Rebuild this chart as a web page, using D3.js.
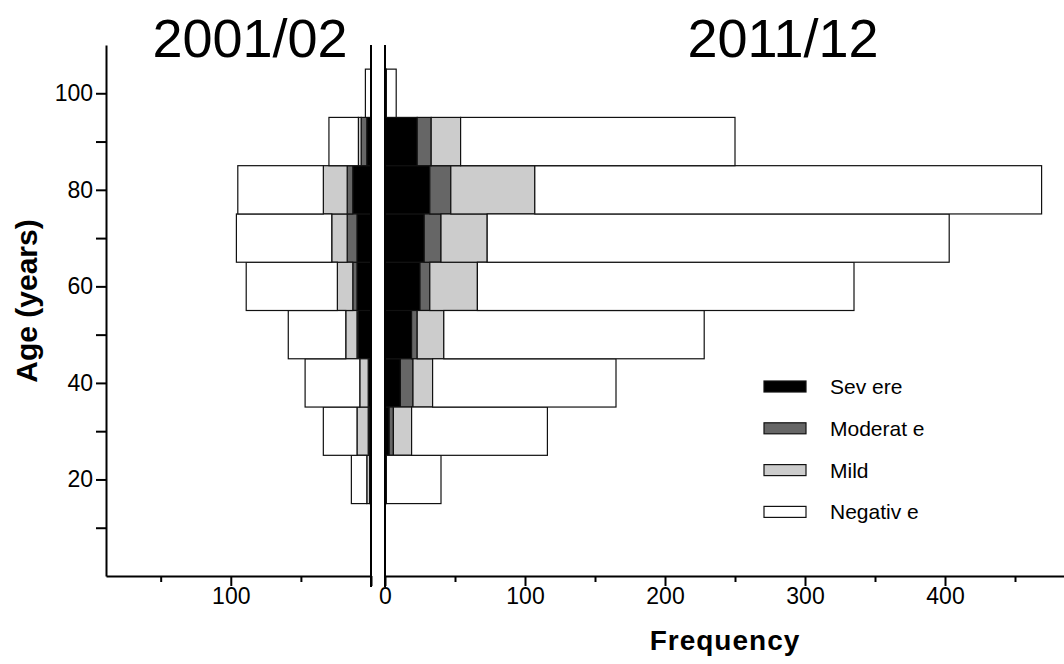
<!DOCTYPE html>
<html>
<head>
<meta charset="utf-8">
<script src="https://cdnjs.cloudflare.com/ajax/libs/d3/7.8.5/d3.min.js"></script>
<style>
body { margin: 0; background: #fff; }
svg { display: block; font-family: "Liberation Sans", Arial, sans-serif; }
</style>
</head>
<body>
<svg id="chart" width="1064" height="664"></svg>
<script>
// Data (frequency per 10 year age band)
var ages = [20, 30, 40, 50, 60, 70, 80, 90, 100];
var categories = ["Severe", "Moderate", "Mild", "Negative"];
var legendLabels = ["Sev ere", "Moderat e", "Mild", "Negativ e"];
var periods = ["2001/02", "2011/12"];

var severe2001   = [0, 1, 2, 9, 10, 10, 13, 3, 0];
var moderate2001 = [1, 1, 0, 1, 3, 7, 4, 4, 0];
var mild2001     = [2, 8, 6, 8, 11, 11, 17, 2, 0];
var negative2001 = [11, 24, 39, 41, 65, 68, 61, 21, 4];

var severe2011   = [1, 3, 11, 19, 25, 28, 32, 23, 1];
var moderate2011 = [0, 3, 9, 4, 7, 12, 15, 10, 0];
var mild2011     = [0, 13, 14, 19, 34, 33, 60, 21, 0];
var negative2011 = [39, 97, 131, 186, 269, 330, 362, 196, 7];

var ageTicks = [10, 20, 30, 40, 50, 60, 70, 80, 90, 100];
var leftTicks = [0, 50, 100, 150];
var rightTicks = [0, 50, 100, 150, 200, 250, 300, 350, 400, 450];

var colors = {"Severe": "#000000", "Moderate": "#666666", "Mild": "#cccccc", "Negative": "#ffffff"};

function buildRows(s, mo, mi, neg) {
    var rows = [];
    for (var i = 0; i < ages.length; i++) {
	rows.push({age: ages[i], Severe: s[i], Moderate: mo[i], Mild: mi[i], Negative: neg[i]});
    }
    return rows;
}

var svg = d3.select("#chart");

var y = d3.scaleLinear().domain([0, 110]).range([576, 45]);
var xLeft = d3.scaleLinear().domain([0, 189]).range([371, 106]);
var xRight = d3.scaleLinear().domain([0, 485]).range([385, 1064]);

var stack = d3.stack().keys(categories);
var leftSeries = stack(buildRows(severe2001, moderate2001, mild2001, negative2001));
var rightSeries = stack(buildRows(severe2011, moderate2011, mild2011, negative2011));

function drawBars(series, x, flip) {
    var g = svg.append("g");
    series.forEach(function(layer) {
	g.selectAll(null)
	    .data(layer)
	    .enter().append("rect")
	    .attr("x", function(d) { return flip ? x(d[1]) : x(d[0]); })
	    .attr("y", function(d) { return y(d.data.age + 5); })
	    .attr("width", function(d) { return Math.abs(x(d[1]) - x(d[0])); })
	    .attr("height", function(d) { return y(d.data.age - 5) - y(d.data.age + 5); })
	    .attr("fill", colors[layer.key])
	    .attr("stroke", "#111")
	    .attr("stroke-width", 1.2);
    });
}

drawBars(leftSeries, xLeft, true);
drawBars(rightSeries, xRight, false);

// Axes
function styleAxis(g) {
    g.selectAll("path, line").attr("stroke", "#000").attr("stroke-width", 2);
    g.selectAll("text").attr("fill", "#000").attr("font-size", 23)
	.attr("font-family", "'Liberation Sans', Arial, sans-serif");
}

var yAxis = d3.axisLeft(y).tickValues(ageTicks).tickSize(10).tickSizeOuter(0).tickPadding(3)
    .tickFormat(function(d) { return d % 20 === 0 ? d : ""; });
svg.append("g").attr("transform", "translate(106,0)").call(yAxis).call(styleAxis);

var leftAxis = d3.axisBottom(xLeft).tickValues(leftTicks).tickSizeOuter(0).tickPadding(6)
    .tickFormat(function(d) { return d === 100 ? d : ""; });
var gl = svg.append("g").attr("transform", "translate(0,576)").call(leftAxis).call(styleAxis);
gl.selectAll(".tick line").attr("y2", function(d) { return d % 100 === 0 ? 10 : 6; });

var rightAxis = d3.axisBottom(xRight).tickValues(rightTicks).tickSizeOuter(0).tickPadding(6)
    .tickFormat(function(d) { return d % 100 === 0 ? d : ""; });
var gr = svg.append("g").attr("transform", "translate(0,576)").call(rightAxis).call(styleAxis);
gr.selectAll(".tick line").attr("y2", function(d) { return d % 100 === 0 ? 10 : 6; });

// Zero lines of both panels run the full height
[xLeft(0), xRight(0)].forEach(function(px) {
    svg.append("line")
	.attr("x1", px).attr("x2", px)
	.attr("y1", y(110)).attr("y2", 587)
	.attr("stroke", "#000").attr("stroke-width", 2);
});

// Titles
svg.append("text").attr("x", 250).attr("y", 57).attr("text-anchor", "middle")
    .attr("font-size", 54).text(periods[0]);
svg.append("text").attr("x", 783).attr("y", 57).attr("text-anchor", "middle")
    .attr("font-size", 54).text(periods[1]);

svg.append("text")
    .attr("transform", "translate(37,301) rotate(-90)")
    .attr("text-anchor", "middle").attr("font-size", 30).attr("font-weight", "bold")
    .text("Age (years)");

svg.append("text").attr("x", 725).attr("y", 650).attr("text-anchor", "middle")
    .attr("font-size", 28).attr("font-weight", "bold").attr("letter-spacing", 1)
    .text("Frequency");

// Legend
var legend = svg.append("g").attr("transform", "translate(764,381)");
categories.forEach(function(c, i) {
    legend.append("rect")
	.attr("x", 0).attr("y", i * 41.8)
	.attr("width", 42).attr("height", 11)
	.attr("fill", colors[c]).attr("stroke", "#111").attr("stroke-width", 1.2);
    legend.append("text")
	.attr("x", 66).attr("y", i * 41.8 + 13)
	.attr("font-size", 21)
	.text(legendLabels[i]);
});
</script>
</body>
</html>
